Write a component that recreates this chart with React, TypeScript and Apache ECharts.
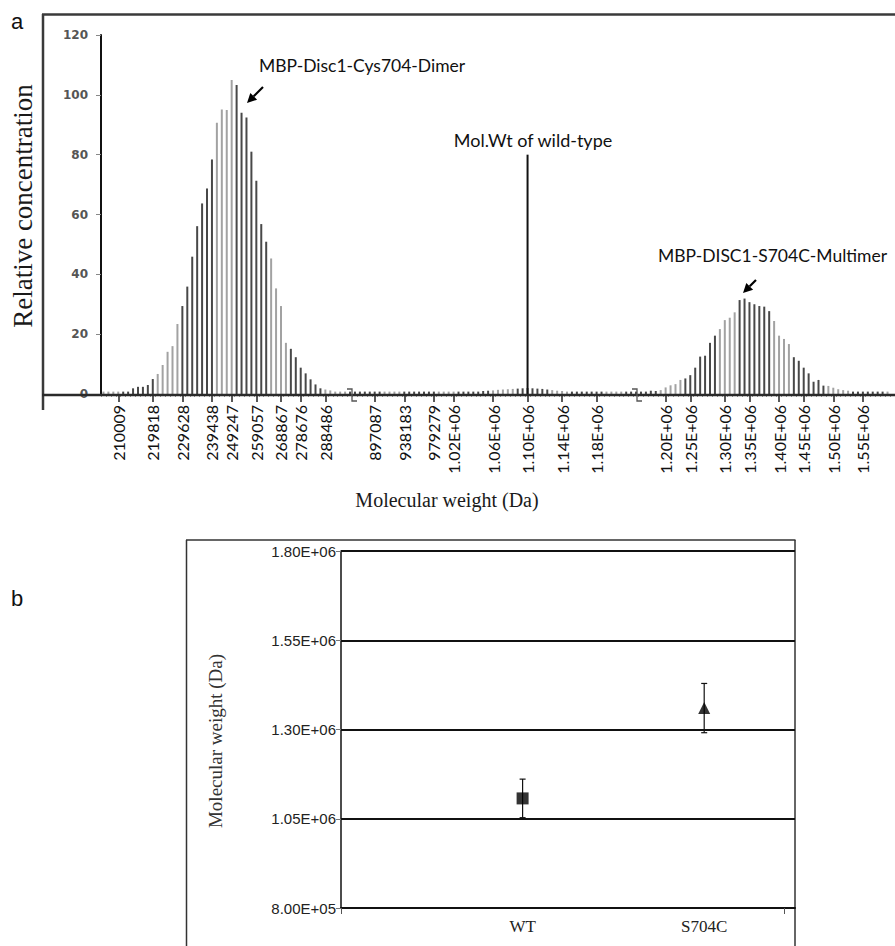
import React, { useEffect, useRef } from 'react';
import * as echarts from 'echarts';

// ---------- Panel a data ----------
const binValues: number[] = [
  0.8, 0.8, 0.8, 0.8, 0.8, 0.8,
  1.9, 2.4, 2.4, 3.0, 5.0, 6.7, 9.7, 14.1, 16.0, 23.4, 29.4, 35.9, 45.9, 56.1,
  63.7, 68.7, 78.4, 90.7, 95.1, 94.9, 105, 103.3, 94.0, 92.4, 81.0, 71.3, 56.8, 50.9,
  45.3, 35.3, 29.4, 17.1, 15.1, 12.3, 8.8, 6.9, 4.9, 3.2, 1.9, 1.5, 1.2,
  0.8, 0.8, 0.8, 0.8, 0.8, 0.8, 0.8, 0.8, 0.8, 0.8,
  0.8, 0.8, 0.8, 0.8, 0.8, 0.8, 0.8, 0.8, 0.8, 0.8,
  0.8, 0.8, 0.8, 0.8, 0.8, 0.8, 0.8, 0.8, 0.8, 0.8,
  1.0, 1.1, 1.2, 1.4, 1.5, 1.6, 1.7, 1.8, 1.9, 2.0, 1.9, 1.8, 1.7, 1.5, 1.3, 1.1, 1.0,
  0.8, 0.8, 0.8, 0.8, 0.8, 0.8, 0.8, 0.8, 0.8, 0.8, 0.8, 0.8, 0.8, 0.8, 0.8, 0.8, 0.8,
  1.1, 1.0, 1.3, 2.2, 2.9, 3.3, 4.7, 5.2, 6.3, 8.8, 12.5, 12.8, 17.1, 19.5, 21.7, 24.7,
  25.5, 27.3, 31.4, 31.9, 30.7, 30.0, 29.4, 29.2, 27.7, 24.4, 19.5, 18.4, 16.7, 12.3,
  11.1, 8.8, 6.9, 4.1, 4.7, 2.8, 2.7, 2.1, 1.6, 1.3, 1.1,
  0.8, 0.8, 0.8, 0.8, 0.8, 0.8, 0.8, 0.8,
];
const wildTypeBin = 86;
const wildTypeValue = 80;
const tickBins = [3, 10, 16, 22, 26, 31, 36, 40, 45, 55, 61, 67, 71, 79, 86, 93, 100, 114, 119, 126, 131, 137, 142, 148, 154];
const tickLabels = [
  '210009', '219818', '229628', '239438', '249247', '259057', '268867', '278676', '288486',
  '897087', '938183', '979279', '1.02E+06', '1.06E+06', '1.10E+06', '1.14E+06', '1.18E+06',
  '1.20E+06', '1.25E+06', '1.30E+06', '1.35E+06', '1.40E+06', '1.45E+06', '1.50E+06', '1.55E+06',
];
const yMinA = 0;
const yMaxA = 120;
const yStepA = 20;

// ---------- Panel b data ----------
const groupsB = ['WT', 'S704C'];
const meansB = [1.107e6, 1.36e6];
const errorsB = [0.054e6, 0.069e6];
const yMinB = 8.0e5;
const yMaxB = 1.8e6;
const yStepB = 2.5e5;
const markerSymbols = ['rect', 'triangle'];

const bins = binValues.map((_, i) => 'bin' + i);
const labelMap: Record<number, string> = {};
tickBins.forEach((b, i) => { labelMap[b] = tickLabels[i]; });
const tickSet = new Set(tickBins);

const fmtSci = (v: number) => {
  const e = Math.floor(Math.log10(v) + 1e-9);
  const m = v / Math.pow(10, e);
  return m.toFixed(2) + 'E+' + String(e).padStart(2, '0');
};

const arrow = (tip: number[], tail: number[]) => {
  const dx = tip[0] - tail[0];
  const dy = tip[1] - tail[1];
  const L = Math.hypot(dx, dy);
  const ux = dx / L, uy = dy / L;
  const nx = -uy, ny = ux;
  const hl = 9.5, hw = 4.8;
  const bx = tip[0] - ux * hl, by = tip[1] - uy * hl;
  return [
    { type: 'line', shape: { x1: tail[0], y1: tail[1], x2: bx, y2: by }, style: { stroke: '#000', lineWidth: 2.2 } },
    { type: 'polygon', shape: { points: [[tip[0], tip[1]], [bx + nx * hw, by + ny * hw], [bx - nx * hw, by - ny * hw]] }, style: { fill: '#000' } },
  ];
};

export default function App() {
  const ref = useRef<HTMLDivElement>(null);
  useEffect(() => {
    if (!ref.current) return;
    const chart = echarts.init(ref.current, undefined, { renderer: 'svg' });
    const serif = '"Liberation Serif", "Times New Roman", serif';
    const sans = 'Lato, "Open Sans", sans-serif';
    const option: any = {
      animation: false,
      backgroundColor: '#ffffff',
      grid: [
        { left: 101, top: 35, width: 789, height: 359 },
        { left: 341, top: 551, width: 454, height: 357 },
      ],
      xAxis: [
        {
          type: 'category', gridIndex: 0, data: bins, boundaryGap: true,
          axisLine: { show: false },
          axisTick: { show: true, alignWithLabel: true, interval: (i: number) => tickSet.has(i), length: 8, lineStyle: { color: '#222', width: 1.5 } },
          axisLabel: {
            interval: (i: number) => tickSet.has(i), rotate: 90, margin: 11,
            formatter: (_v: string, i: number) => labelMap[i] || '',
            fontFamily: sans, fontSize: 16, color: '#111',
          },
          splitLine: { show: false },
        },
        {
          type: 'category', gridIndex: 0, data: bins, position: 'bottom', boundaryGap: true,
          axisLine: { show: false },
          axisTick: { show: true, interval: 0, length: 3, lineStyle: { color: '#9a9a9a', width: 1 } },
          axisLabel: { show: false },
          splitLine: { show: false },
        },
        {
          type: 'value', gridIndex: 1, min: 0, max: 2.5, interval: 0.5,
          axisLine: { show: true, onZero: false, lineStyle: { color: '#111', width: 2 } },
          axisTick: { show: true, customValues: [0, 2.44], length: 6, lineStyle: { color: '#555' } },
          axisLabel: {
            customValues: [1, 2], margin: 10,
            formatter: (v: number) => groupsB[Math.round(v) - 1] || '',
            fontFamily: serif, fontSize: 17, color: '#222',
          },
          splitLine: { show: false },
        },
      ],
      yAxis: [
        {
          type: 'value', gridIndex: 0, min: yMinA, max: yMaxA, interval: yStepA,
          axisLine: { show: true, lineStyle: { color: '#111', width: 2 } },
          axisTick: { show: true, length: 5, lineStyle: { color: '#888' } },
          axisLabel: { fontFamily: '"DejaVu Sans", sans-serif', fontWeight: 'bold', fontSize: 12, color: '#555', margin: 13 },
          splitLine: { show: false },
        },
        {
          type: 'value', gridIndex: 1, min: 0, max: yMaxB - yMinB, interval: yStepB,
          axisLine: { show: true, lineStyle: { color: '#111', width: 1.5 } },
          axisTick: { show: true, length: 5, lineStyle: { color: '#777' } },
          axisLabel: { formatter: (v: number) => fmtSci(v + yMinB), fontFamily: '"Liberation Sans", Arial, sans-serif', fontSize: 15, color: '#222', margin: 5 },
          splitLine: { show: true, lineStyle: { color: '#111', width: 2 } },
        },
      ],
      series: [
        {
          type: 'bar', name: 'Relative concentration', xAxisIndex: 0, yAxisIndex: 0,
          data: binValues, barWidth: 2, barGap: '-100%',
          itemStyle: {
            color: (p: any) => {
              const period = 11.33;
              const ph = (((p.dataIndex - 11) % period) + period) % period;
              return ph < 4.1 ? '#a2a2a2' : '#484848';
            },
          },
        },
        {
          type: 'bar', name: 'Mol.Wt of wild-type', xAxisIndex: 0, yAxisIndex: 0,
          data: binValues.map((_, i) => (i === wildTypeBin ? wildTypeValue : null)),
          barWidth: 2, barGap: '-100%', itemStyle: { color: '#111' },
        },
        {
          type: 'custom', name: 'error', xAxisIndex: 2, yAxisIndex: 1,
          encode: { x: 0, y: [1, 2] },
          data: groupsB.map((_, i) => [i + 1, meansB[i] - errorsB[i] - yMinB, meansB[i] + errorsB[i] - yMinB]),
          renderItem: (_params: any, api: any) => {
            const x = api.value(0);
            const lo = api.coord([x, api.value(1)]);
            const hi = api.coord([x, api.value(2)]);
            const c = 3;
            const st = { stroke: '#111', lineWidth: 1.2 };
            return {
              type: 'group',
              children: [
                { type: 'line', shape: { x1: lo[0], y1: lo[1], x2: hi[0], y2: hi[1] }, style: st },
                { type: 'line', shape: { x1: hi[0] - c, y1: hi[1], x2: hi[0] + c, y2: hi[1] }, style: st },
                { type: 'line', shape: { x1: lo[0] - c, y1: lo[1], x2: lo[0] + c, y2: lo[1] }, style: st },
              ],
            };
          },
          z: 3,
        },
        {
          type: 'scatter', name: 'mean', xAxisIndex: 2, yAxisIndex: 1,
          data: groupsB.map((_, i) => ({ value: [i + 1, meansB[i] - yMinB], symbol: markerSymbols[i] })),
          symbolSize: 12, itemStyle: { color: '#000' }, z: 5,
        },
      ],
      graphic: [
        // panel a frame
        { type: 'line', shape: { x1: 42, y1: 14.5, x2: 895, y2: 14.5 }, style: { stroke: '#3a3a3a', lineWidth: 2.5 } },
        { type: 'line', shape: { x1: 43, y1: 14, x2: 43, y2: 410 }, style: { stroke: '#3a3a3a', lineWidth: 2.5 } },
        { type: 'line', z: 100, shape: { x1: 42, y1: 395, x2: 895, y2: 395 }, style: { stroke: '#2a2a2a', lineWidth: 2.5 } },
        // axis break marks
        { type: 'polyline', z: 101, shape: { points: [[347, 389], [352, 389], [352, 401], [357, 401]] }, style: { stroke: '#555', lineWidth: 1.3, fill: null } },
        { type: 'polyline', z: 101, shape: { points: [[632, 389], [637, 389], [637, 401], [642, 401]] }, style: { stroke: '#555', lineWidth: 1.3, fill: null } },
        // panel letters
        { type: 'text', style: { text: 'a', x: 17, y: 21, align: 'center', verticalAlign: 'middle', font: '22px "Liberation Sans", Arial, sans-serif', fill: '#111' } },
        { type: 'text', style: { text: 'b', x: 17, y: 598, align: 'center', verticalAlign: 'middle', font: '22px "Liberation Sans", Arial, sans-serif', fill: '#111' } },
        // axis titles
        { type: 'text', x: 23, y: 206, rotation: Math.PI / 2, style: { text: 'Relative concentration', x: 0, y: 0, align: 'center', verticalAlign: 'middle', font: '27px ' + serif, fill: '#1a1a1a' } },
        { type: 'text', style: { text: 'Molecular weight (Da)', x: 447, y: 500, align: 'center', verticalAlign: 'middle', font: '20px ' + serif, fill: '#1a1a1a' } },
        { type: 'text', x: 215, y: 741, rotation: Math.PI / 2, style: { text: 'Molecular weight (Da)', x: 0, y: 0, align: 'center', verticalAlign: 'middle', font: '19px ' + serif, fill: '#333' } },
        // annotations
        { type: 'text', style: { text: 'MBP-Disc1-Cys704-Dimer', x: 259, y: 65, align: 'left', verticalAlign: 'middle', font: '17.5px ' + sans, fill: '#111' } },
        { type: 'text', style: { text: 'Mol.Wt of wild-type', x: 533, y: 140, align: 'center', verticalAlign: 'middle', font: '18px ' + sans, fill: '#111' } },
        { type: 'text', style: { text: 'MBP-DISC1-S704C-Multimer', x: 658, y: 255, align: 'left', verticalAlign: 'middle', font: '17.5px ' + sans, fill: '#111' } },
        ...arrow([247, 103], [263, 87]),
        ...arrow([743, 293], [756, 280]),
        // panel b frame
        { type: 'line', shape: { x1: 186, y1: 540, x2: 795.5, y2: 540 }, style: { stroke: '#333', lineWidth: 1.5 } },
        { type: 'line', shape: { x1: 186.5, y1: 540, x2: 186.5, y2: 946 }, style: { stroke: '#333', lineWidth: 1.5 } },
        { type: 'line', shape: { x1: 795, y1: 540, x2: 795, y2: 946 }, style: { stroke: '#333', lineWidth: 1.5 } },
      ],
    };
    chart.setOption(option);
    return () => chart.dispose();
  }, []);
  return <div ref={ref} style={{ position: 'absolute', left: 0, top: 0, width: 895, height: 946 }} />;
}
